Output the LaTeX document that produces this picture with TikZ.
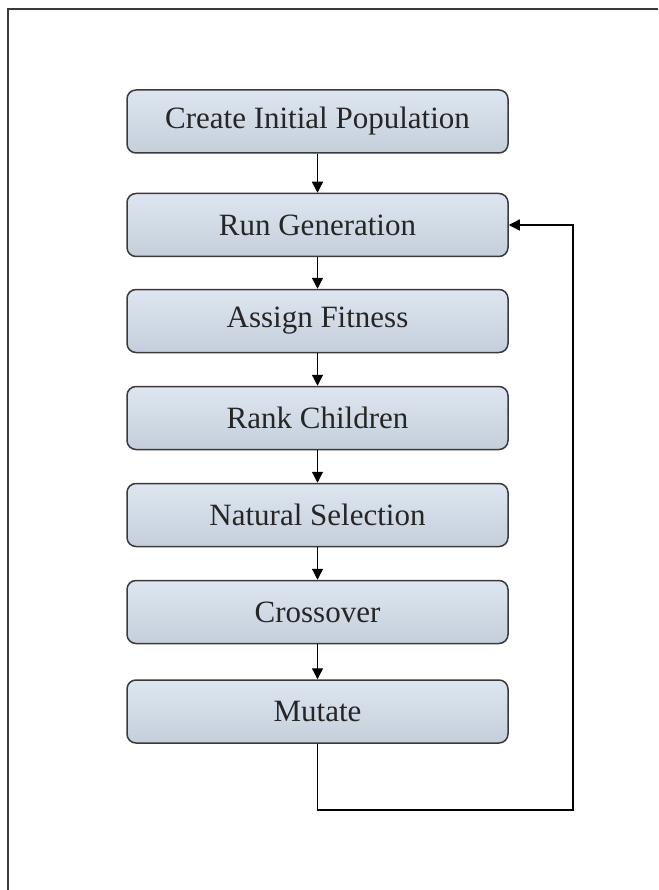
\documentclass[tikz,border=0pt]{standalone}
\usepackage{fontspec}
\setmainfont{Liberation Serif}
\usetikzlibrary{arrows.meta}
\definecolor{boxtop}{HTML}{DDE6F0}
\definecolor{boxbot}{HTML}{C5CFDB}
\definecolor{edge}{HTML}{3A3A3A}
\tikzset{
  box/.style={draw=edge, line width=1.5pt, rounded corners=9pt, top color=boxtop, bottom color=boxbot,
    minimum width=381pt, minimum height=63pt, inner sep=0pt, font=\fontsize{31}{34}\selectfont, text=black!85},
  arr/.style={draw=black, line width=1.3pt, -{Triangle[length=11pt,width=11pt]}}
}
\begin{document}
\begin{tikzpicture}[x=1pt,y=-1pt]
\useasboundingbox (0,0) rectangle (658,890);
\fill[white] (0,0) rectangle (658,890);
\draw[edge, line width=2.5pt] (8,890) -- (8,9) -- (658,9);
\node[box] (n1) at (317.5,121.5) {Create Initial Population};
\node[box] (n2) at (317.5,225) {Run Generation};
\node[box] (n3) at (317.5,321) {Assign Fitness};
\node[box] (n4) at (317.5,418) {Rank Children};
\node[box] (n5) at (317.5,515) {Natural Selection};
\node[box] (n6) at (317.5,612) {Crossover};
\node[box] (n7) at (317.5,711.5) {Mutate};
\draw[arr] (n1) -- (n2);
\draw[arr] (n2) -- (n3);
\draw[arr] (n3) -- (n4);
\draw[arr] (n4) -- (n5);
\draw[arr] (n5) -- (n6);
\draw[arr] (n6) -- (n7);
\coordinate (c) at (573,810);
\draw[arr] (n7.south) |- (c) |- (n2.east);
\end{tikzpicture}
\end{document}
